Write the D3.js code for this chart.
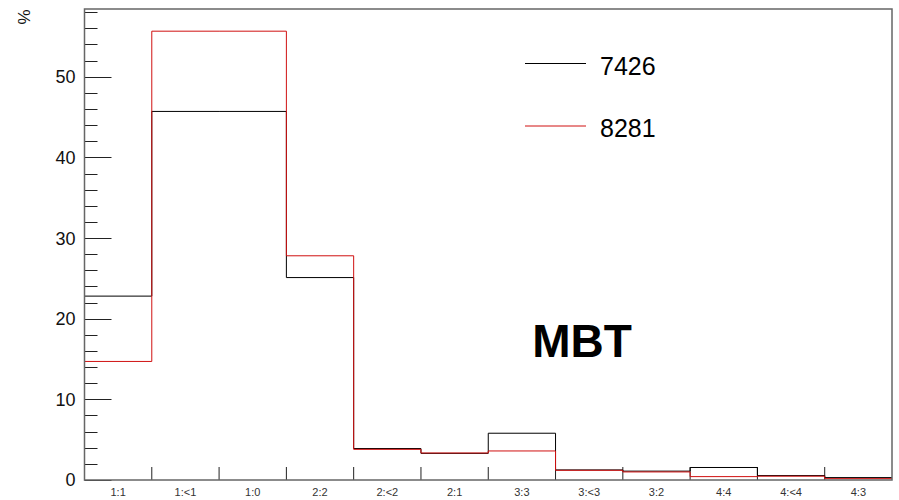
<!DOCTYPE html>
<html>
<head>
<meta charset="utf-8">
<script src="https://cdn.jsdelivr.net/npm/d3@7"></script>
<style>
  body { margin: 0; background: #fff; }
  svg { font-family: "Liberation Sans", Arial, sans-serif; }
</style>
</head>
<body>
<div id="chart"></div>
<script>
// bins of the histogram
var categories = ["1:1", "1:<1", "1:0", "2:2", "2:<2", "2:1", "3:3", "3:<3", "3:2", "4:4", "4:<4", "4:3"];
// series values in %
var run7426 = [22.8, 45.7, 45.7, 25.1, 3.9, 3.3, 5.8, 1.25, 1.1, 1.55, 0.55, 0.3];
var run8281 = [14.7, 55.65, 55.65, 27.8, 3.8, 3.35, 3.6, 1.2, 1.0, 0.42, 0.47, 0.17];
var seriesNames = ["7426", "8281"];
var yMajorTicks = [0, 10, 20, 30, 40, 50];
var yMax = 58.4;

var W = 899, H = 500;
var margin = { top: 9, right: 7, bottom: 20, left: 84.5 };
var width = W - margin.left - margin.right;
var height = H - margin.top - margin.bottom;

var svg = d3.select("#chart").append("svg")
  .attr("width", W)
  .attr("height", H);

var g = svg.append("g")
  .attr("transform", "translate(" + margin.left + "," + margin.top + ")");

var x = d3.scaleBand().domain(categories).range([0, width]).padding(0);
var y = d3.scaleLinear().domain([0, yMax]).range([height, 0]);

// x ticks at bin edges, pointing up
var edges = categories.map(function(c) { return x(c); }).slice(1);
g.append("g").selectAll("line")
  .data(edges)
  .enter().append("line")
  .attr("x1", function(d) { return d; })
  .attr("x2", function(d) { return d; })
  .attr("y1", height)
  .attr("y2", height - 13)
  .attr("stroke", "#222")
  .attr("stroke-width", 1);

// x labels
g.append("g").selectAll("text")
  .data(categories)
  .enter().append("text")
  .attr("x", function(d) { return x(d) + x.bandwidth() / 2; })
  .attr("y", height + 16)
  .attr("text-anchor", "middle")
  .attr("font-size", "11px")
  .attr("fill", "#333")
  .text(function(d) { return d; });

// y ticks: minor every 2, major every 10
var yTicks = d3.range(0, yMax, 2);
g.append("g").selectAll("line")
  .data(yTicks)
  .enter().append("line")
  .attr("x1", 0)
  .attr("x2", function(d) { return d % 10 === 0 ? 27 : 13; })
  .attr("y1", function(d) { return Math.round(y(d)) + 0.5; })
  .attr("y2", function(d) { return Math.round(y(d)) + 0.5; })
  .attr("stroke", "#222")
  .attr("stroke-width", 1);

g.append("g").selectAll("text")
  .data(yMajorTicks)
  .enter().append("text")
  .attr("x", -9)
  .attr("y", function(d) { return y(d); })
  .attr("dy", "0.36em")
  .attr("text-anchor", "end")
  .attr("font-size", "18px")
  .attr("fill", "#111")
  .text(function(d) { return d; });

// y axis title
svg.append("text")
  .attr("transform", "translate(30,17) rotate(-90)")
  .attr("text-anchor", "middle")
  .attr("font-size", "17px")
  .attr("fill", "#111")
  .text("%");

// histogram outlines
function stepPoints(vals) {
  var pts = vals.map(function(v, i) { return [x(categories[i]), y(v)]; });
  pts.push([width, y(vals[vals.length - 1])]);
  return pts;
}
var line = d3.line().curve(d3.curveStepAfter);

g.append("path")
  .attr("d", line(stepPoints(run7426)))
  .attr("fill", "none")
  .attr("stroke", "#000")
  .attr("stroke-width", 1);

g.append("path")
  .attr("d", line(stepPoints(run8281)))
  .attr("fill", "none")
  .attr("stroke", "#d01010")
  .attr("stroke-width", 1);

// frame
g.append("rect")
  .attr("x", 0)
  .attr("y", 0)
  .attr("width", width)
  .attr("height", height)
  .attr("fill", "none")
  .attr("stroke", "#666")
  .attr("stroke-width", 1.5);

// legend
var legendColors = ["#000", "#d01010"];
var legend = svg.append("g").selectAll("g")
  .data(seriesNames)
  .enter().append("g")
  .attr("transform", function(d, i) { return "translate(525," + (63.5 + i * 62.5) + ")"; });
legend.append("line")
  .attr("x1", 0).attr("x2", 61)
  .attr("stroke", function(d, i) { return legendColors[i]; })
  .attr("stroke-width", 1);
legend.append("text")
  .attr("x", 75)
  .attr("y", 11)
  .attr("font-size", "25px")
  .attr("fill", "#000")
  .text(function(d) { return d; });

// label
svg.append("text")
  .attr("x", 582)
  .attr("y", 357)
  .attr("text-anchor", "middle")
  .attr("font-size", "46px")
  .attr("font-weight", "bold")
  .attr("fill", "#000")
  .text("MBT");
</script>
</body>
</html>
